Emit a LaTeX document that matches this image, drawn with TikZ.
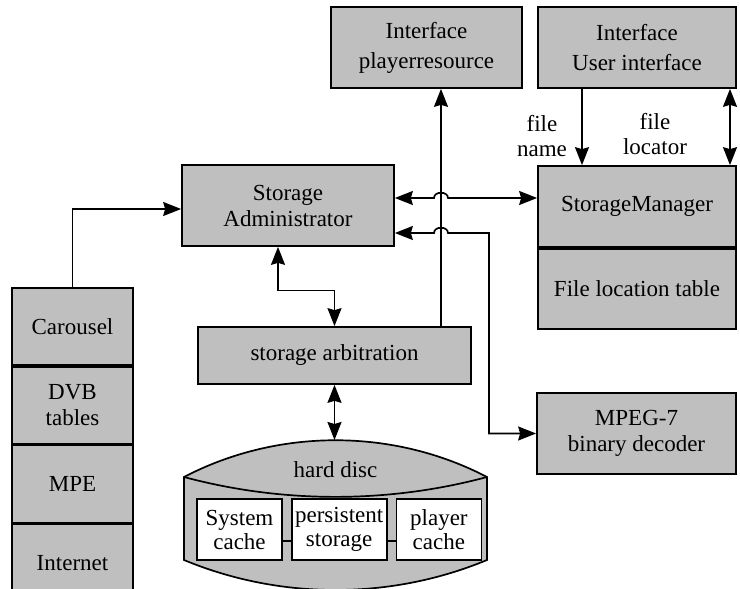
\documentclass[tikz,border=0pt]{standalone}
\usepackage{fontspec}
\setmainfont{Liberation Serif}
\usepackage{tikz}
\usetikzlibrary{arrows.meta,positioning,calc}

\begin{document}
\begin{tikzpicture}[
  x=1pt,y=-1pt,
  node distance=0pt,
  box/.style={rectangle,draw,fill=black!25,line width=1.7pt,inner sep=0pt,align=center,
              font=\fontsize{23}{26}\selectfont},
  inbox/.style={rectangle,draw,fill=white,line width=1.7pt,inner sep=0pt,align=center,
              minimum width=85pt,minimum height=61pt,font=\fontsize{23}{24}\selectfont},
  lbl/.style={align=center,inner sep=0pt,font=\fontsize{23}{25}\selectfont},
  wire/.style={line width=1.7pt},
  arr/.style={wire,-{Stealth[length=18pt,width=14pt,inset=2pt]}},
  biarr/.style={wire,{Stealth[length=18pt,width=14pt,inset=2pt]}-{Stealth[length=18pt,width=14pt,inset=2pt]}}
]
  \useasboundingbox (0,0) rectangle (740,589);
  \clip (0,0) rectangle (740,589);

  % top row
  \node[box,minimum width=191pt,minimum height=81pt] (ifplayer) at (426.5,47.5) {Interface\\[4pt]playerresource};
  \node[box,minimum width=198pt,minimum height=81pt] (ifuser) at (637,47.5) {Interface\\[4pt]User interface};

  % middle
  \node[box,minimum width=212pt,minimum height=81pt] (admin) at (288,205.5) {Storage\\Administrator};
  \node[box,minimum width=198pt,minimum height=81pt] (smgr) at (637,206.5) {StorageManager};
  \node[box,minimum width=198pt,minimum height=80pt,below=of smgr] (ftable) {File location table};
  \node[box,minimum width=273pt,minimum height=57pt] (arb) at (334.5,355.5) {storage arbitration};
  \node[box,minimum width=199pt,minimum height=81pt] (mpeg) at (636.5,433.5) {MPEG-7\\binary decoder};

  % input stack
  \node[box,minimum width=121pt,minimum height=77pt] (carousel) at (72.5,326.5) {Carousel};
  \node[box,minimum width=121pt,minimum height=77pt,below=of carousel] (dvb) {DVB\\tables};
  \node[box,minimum width=121pt,minimum height=77pt,below=of dvb] (mpe) {MPE};
  \node[box,minimum width=121pt,minimum height=77pt,below=of mpe] (internet) {Internet};

  % hard disc
  \coordinate (discL) at (184,477);
  \coordinate (discR) at (487,477);
  \coordinate (disctop) at (335.5,440);
  \filldraw[wire,fill=black!25] (discL) .. controls (278,428) and (393,428) .. (discR)
    -- (487,560) .. controls (390.6,600) and (280.4,600) .. (184,560) -- cycle;
  \draw[wire] (discL) .. controls (282.5,503.5) and (388.5,503.5) .. (discR);
  \node[lbl] (hdisc) at (335.5,470) {hard disc};
  \node[inbox] (syscache) at (239.5,529.5) {System\\cache};
  \node[inbox,minimum width=95pt,right=8pt of syscache] (persist) {persistent\\storage};
  \node[inbox,right=8pt of persist] (plcache) {player\\cache};
  \draw[wire] ([yshift=-11.5pt]syscache.east) -- ([yshift=-11.5pt]persist.west);
  \draw[wire] ([yshift=-11.5pt]persist.east) -- ([yshift=-11.5pt]plcache.west);

  % labels
  \node[lbl] (fname) at (542,136) {file\\name};
  \node[lbl] (floc) at (655,134) {file\\locator};

  % connectors
  \coordinate (jx) at (441,0);
  \coordinate (jx2) at (489,0);
  \coordinate (a1) at ([yshift=7.5pt]admin.east);
  \coordinate (a2) at ([yshift=-27.5pt]admin.east);
  \coordinate (a3) at ([xshift=-10pt]admin.south);
  \coordinate (a4) at ($(admin.south)!0.55!(arb.north)$);
  \coordinate (ain) at ([yshift=-3.5pt]admin.west);
  \coordinate (u1) at ([xshift=-55pt]ifuser.south);
  \coordinate (u2) at ([xshift=93pt]ifuser.south);

  \draw[arr] (carousel.north) |- (ain);
  \draw[biarr] (a1) -- ($(a1 -| jx)+(-7pt,0)$) .. controls +(0,-7) and +(0,-7) .. ($(a1 -| jx)+(7pt,0)$) -- (a1 -| smgr.west);
  \draw[biarr] (a2) -- ($(a2 -| jx)+(-7pt,0)$) .. controls +(0,-7) and +(0,-7) .. ($(a2 -| jx)+(7pt,0)$) -- (a2 -| jx2) |- (mpeg.west);
  \draw[biarr] (a3) |- (a4) -| (arb.north);
  \draw[biarr] (arb.south) -- (arb.south |- disctop);
  \draw[arr] (arb.north -| jx) -- (ifplayer.south -| jx);
  \draw[arr] (u1) -- (u1 |- smgr.north);
  \draw[biarr] (u2) -- (u2 |- smgr.north);
\end{tikzpicture}
\end{document}
